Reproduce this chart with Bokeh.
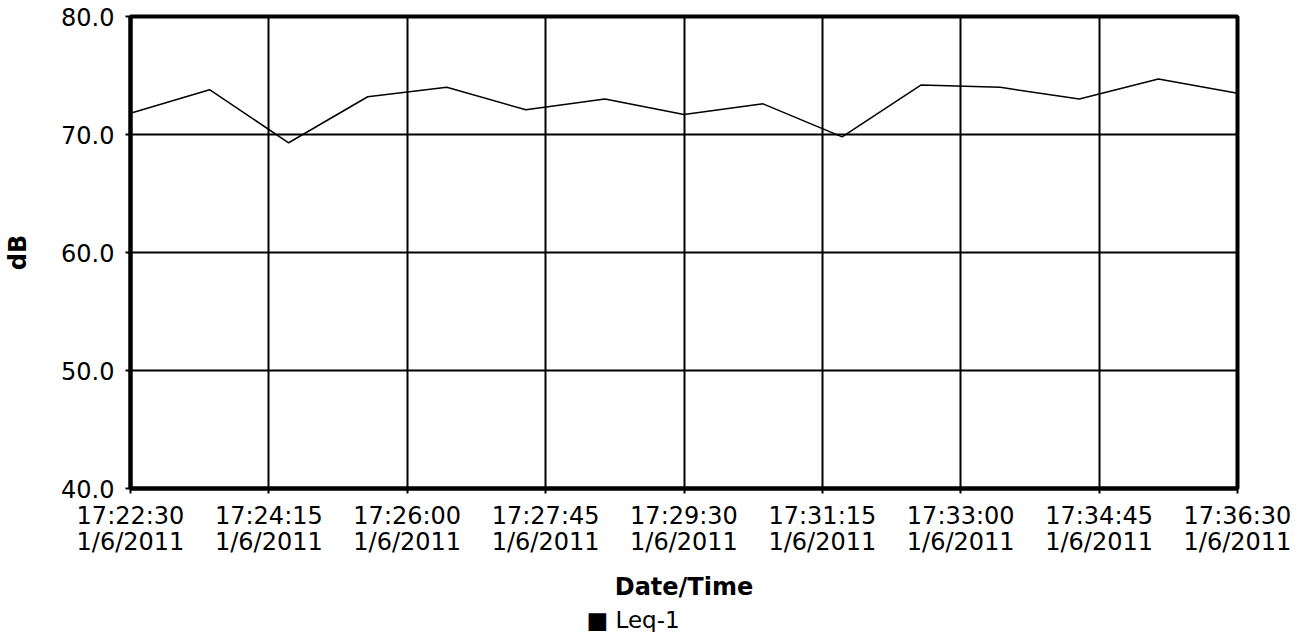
import pandas as pd
from bokeh.plotting import figure
from bokeh.models import (Range1d, FixedTicker, NumeralTickFormatter, Title,
                          ColumnDataSource)
from bokeh.embed import file_html
from bokeh.resources import INLINE

# ---- data ----
date_str = "2011-01-06"
date_label = "1/6/2011"
times = ["17:22:30", "17:23:30", "17:24:30", "17:25:30", "17:26:30",
         "17:27:30", "17:28:30", "17:29:30", "17:30:30", "17:31:30",
         "17:32:30", "17:33:30", "17:34:30", "17:35:30", "17:36:30"]
leq = [71.8, 73.8, 69.3, 73.2, 74.0, 72.1, 73.0, 71.7, 72.6, 69.8,
       74.2, 74.0, 73.0, 74.7, 73.5]
tick_times = ["17:22:30", "17:24:15", "17:26:00", "17:27:45", "17:29:30",
              "17:31:15", "17:33:00", "17:34:45", "17:36:30"]
y_ticks = [40, 50, 60, 70, 80]
series_name = "Leq-1"

FONT = "DejaVu Sans"


def to_ms(t):
    return float(pd.Timestamp(f"{date_str} {t}").value // 10**6)


xs = [to_ms(t) for t in times]
tick_ms = [to_ms(t) for t in tick_times]
src = ColumnDataSource(dict(x=xs, y=leq))

p = figure(frame_width=1107, frame_height=472, x_axis_type="datetime",
           output_backend="svg", toolbar_location=None,
           x_range=Range1d(tick_ms[0], tick_ms[-1]),
           y_range=Range1d(y_ticks[0], y_ticks[-1]),
           min_border_left=130, min_border_right=61, min_border_top=16,
           min_border_bottom=0)
p.background_fill_color = "white"
p.border_fill_color = "white"
p.outline_line_color = "black"
p.outline_line_width = 4

p.line("x", "y", source=src, line_color="black", line_width=1.5)

# axes
xa = p.xaxis[0]
xa.ticker = FixedTicker(ticks=tick_ms)
xa.major_label_overrides = {m: f"{t}\n{date_label}" for m, t in zip(tick_ms, tick_times)}
xa.axis_label = "Date/Time"
ya = p.yaxis[0]
ya.ticker = FixedTicker(ticks=y_ticks)
ya.formatter = NumeralTickFormatter(format="0.0")
ya.axis_label = "dB"

for ax in (xa, ya):
    ax.axis_line_color = "black"
    ax.axis_line_width = 4
    ax.major_tick_line_color = "black"
    ax.major_tick_line_width = 2
    ax.major_tick_out = 5
    ax.major_tick_in = 0
    ax.minor_tick_line_color = None
    ax.major_label_text_font = FONT
    ax.major_label_text_font_size = "24px"
    ax.major_label_text_color = "black"
    ax.axis_label_text_font = FONT
    ax.axis_label_text_font_style = "bold"
    ax.axis_label_text_font_size = "24px"
    ax.axis_label_text_color = "black"

xa.major_label_text_line_height = 0.95
xa.major_label_standoff = 8
xa.axis_label_standoff = 14
ya.major_label_standoff = 11
ya.axis_label_standoff = 26

# grid
p.xgrid.ticker = FixedTicker(ticks=tick_ms)
p.ygrid.ticker = FixedTicker(ticks=y_ticks)
for g in (p.xgrid[0], p.ygrid[0]):
    g.grid_line_color = "black"
    g.grid_line_width = 2
    g.grid_line_alpha = 1.0

# series key below the axis title
key = Title(text="\u25a0 " + series_name, align="left", offset=456,
            standoff=0, text_font=FONT, text_font_size="23px",
            text_font_style="normal", text_color="black")
p.add_layout(key, "below")

open("out.html", "w").write(file_html(p, INLINE))
